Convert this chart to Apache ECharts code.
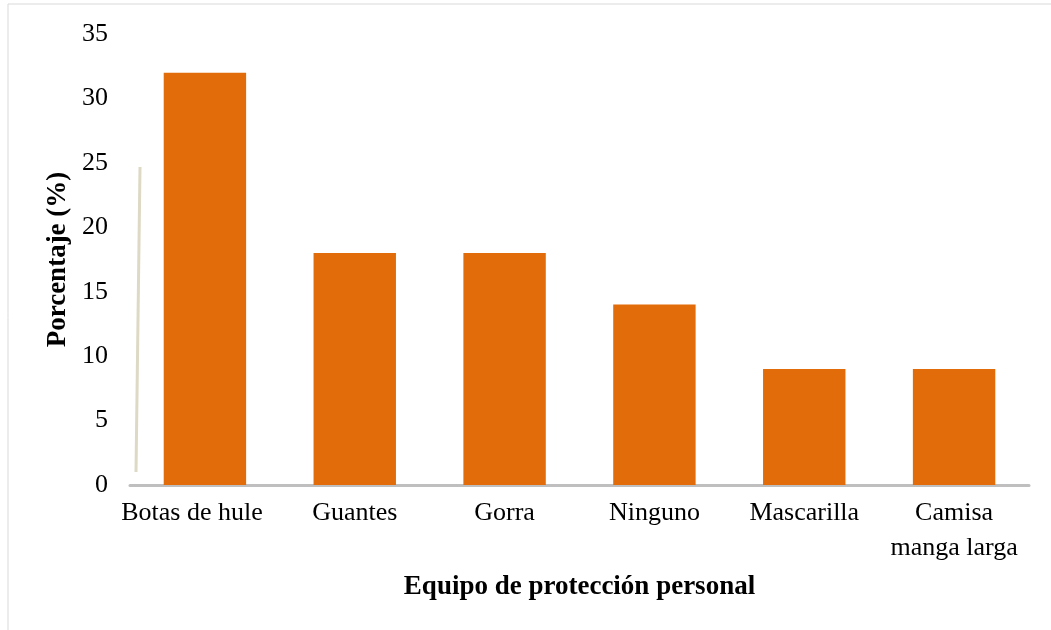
<!DOCTYPE html>
<html>
<head>
<meta charset="utf-8">
<script src="https://cdn.jsdelivr.net/npm/echarts@6/dist/echarts.min.js"></script>
<style>
  html, body { margin: 0; padding: 0; background: #fff; }
  #chart { width: 1051px; height: 630px; }
</style>
</head>
<body>
<div id="chart"></div>
<script>
const categories = ['Botas de hule', 'Guantes', 'Gorra', 'Ninguno', 'Mascarilla', 'Camisa\nmanga larga']
const percentages = [32, 18, 18, 14, 9, 9]
const yTicks = { min: 0, max: 35, interval: 5 }

const serif = '"Liberation Serif", "DejaVu Serif", serif'
const chart = echarts.init(document.getElementById('chart'))

// first label sits a bit left of its bar in the original
const xData = categories.map((c, i) =>
  i === 0 ? { value: c, textStyle: { padding: [0, 26, 0, 0] } } : c
)

chart.setOption({
  backgroundColor: '#fff',
  animation: false,
  grid: { left: 130, right: 22, top: 34, bottom: 145 },
  graphic: [
    {
      type: 'polyline',
      shape: { points: [[8, 640], [8, 4], [1060, 4]] },
      style: { stroke: '#d9d9d9', lineWidth: 1, fill: null },
      silent: true,
    },
    {
      type: 'line',
      shape: { x1: 140, y1: 167, x2: 136, y2: 472 },
      style: { stroke: '#ddd9c4', lineWidth: 3 },
      silent: true,
    },
  ],
  xAxis: {
    type: 'category',
    data: xData,
    name: 'Equipo de protección personal',
    nameLocation: 'middle',
    nameGap: 89,
    nameTextStyle: { fontFamily: serif, fontSize: 27, fontWeight: 'bold', color: '#000' },
    axisLine: { lineStyle: { color: '#bfbfbf', width: 3 } },
    axisTick: { show: false },
    axisLabel: {
      fontFamily: serif,
      fontSize: 26,
      color: '#000',
      margin: 11,
      lineHeight: 35,
      interval: 0,
    },
  },
  yAxis: {
    type: 'value',
    min: yTicks.min,
    max: yTicks.max,
    interval: yTicks.interval,
    name: 'Porcentaje (%)',
    nameLocation: 'middle',
    nameGap: 57,
    nameTextStyle: { fontFamily: serif, fontSize: 27, fontWeight: 'bold', color: '#000' },
    axisLine: { show: false },
    axisTick: { show: false },
    splitLine: { show: false },
    axisLabel: { fontFamily: serif, fontSize: 26, color: '#000', margin: 22 },
  },
  series: [
    {
      type: 'bar',
      data: percentages,
      barWidth: '55%',
      itemStyle: { color: '#e36c0a' },
    },
  ],
})
</script>
</body>
</html>
